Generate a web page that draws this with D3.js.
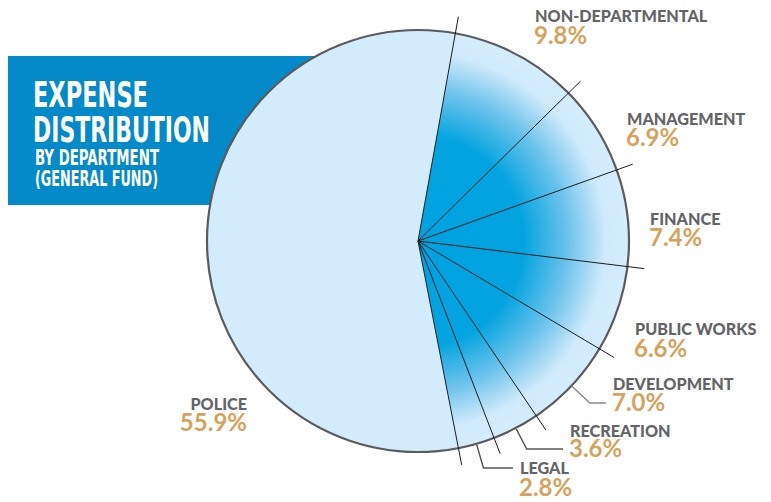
<!DOCTYPE html>
<html>
<head>
<meta charset="utf-8">
<script src="https://cdn.jsdelivr.net/npm/d3@7"></script>
<style>
  html, body { margin: 0; padding: 0; background: #fff; }
  svg { display: block; }
</style>
</head>
<body>
<svg id="chart" width="771" height="502"></svg>
<script>
// ---- data ----
const categories = ["NON-DEPARTMENTAL", "MANAGEMENT", "FINANCE", "PUBLIC WORKS", "DEVELOPMENT", "RECREATION", "LEGAL", "POLICE"];
const values = [9.8, 6.9, 7.4, 6.6, 7.0, 3.6, 2.8, 55.9];
const pctLabels = ["9.8%", "6.9%", "7.4%", "6.6%", "7.0%", "3.6%", "2.8%", "55.9%"];
const titleLines = ["EXPENSE", "DISTRIBUTION"];
const subtitleLines = ["BY DEPARTMENT", "(GENERAL FUND)"];

// ---- layout ----
const cx = 418, cy = 241, R = 211;
const startDeg = 10.2;
// label layout: [x, nameBaseline, pctBaseline, anchor, leader]
const labelLayout = [
  [535, 22, 44, "start", false],
  [627, 125, 146, "start", false],
  [650, 225, 246, "start", false],
  [635, 335, 357, "start", false],
  [613, 390, 411, "start", 403],
  [570, 437, 457, "start", 449],
  [520, 474, 496, "start", 468],
  [247, 410, 431, "end", false]
];

const svg = d3.select("#chart");
const defs = svg.append("defs");
const grad = defs.append("radialGradient")
  .attr("id", "sliceGrad")
  .attr("gradientUnits", "userSpaceOnUse")
  .attr("cx", 0).attr("cy", 0).attr("r", R)
  .attr("fx", 0).attr("fy", 0);
grad.append("stop").attr("offset", 0).attr("stop-color", "#00a2df");
grad.append("stop").attr("offset", 0.5).attr("stop-color", "#03a4e0");
grad.append("stop").attr("offset", 0.71).attr("stop-color", "#6cc3ec");
grad.append("stop").attr("offset", 0.89).attr("stop-color", "#cfeafb");
grad.append("stop").attr("offset", 1).attr("stop-color", "#d4edfc");

// title box
svg.append("rect")
  .attr("x", 8).attr("y", 56).attr("width", 330).attr("height", 149)
  .attr("fill", "#0489c9");

const titleFont = "'Liberation Sans Narrow', 'DejaVu Sans Condensed', Arial, sans-serif";
const titleSpecs = [
  {t: titleLines[0], x: 33, y: 107, size: 35, len: 115},
  {t: titleLines[1], x: 33, y: 142, size: 36, len: 177},
  {t: subtitleLines[0], x: 35, y: 165, size: 21, len: 124},
  {t: subtitleLines[1], x: 35, y: 186, size: 21, len: 123}
];
svg.selectAll("text.title").data(titleSpecs).join("text")
  .attr("class", "title")
  .attr("x", d => d.x).attr("y", d => d.y)
  .attr("font-family", titleFont)
  .attr("font-weight", "bold")
  .attr("font-size", d => d.size)
  .attr("fill", "#fff")
  .attr("textLength", d => d.len)
  .attr("lengthAdjust", "spacingAndGlyphs")
  .text(d => d.t);

// pie
const toRad = d => d * Math.PI / 180;
const pie = d3.pie().sort(null).value(d => d)
  .startAngle(toRad(startDeg)).endAngle(toRad(startDeg) + 2 * Math.PI);
const arcs = pie(values);
const arc = d3.arc().innerRadius(0).outerRadius(R);

const g = svg.append("g").attr("transform", `translate(${cx},${cy})`);
g.selectAll("path.slice").data(arcs).join("path")
  .attr("class", "slice")
  .attr("d", arc)
  .attr("fill", (d, i) => categories[i] === "POLICE" ? "#d3ecfc" : "url(#sliceGrad)");

g.append("circle").attr("r", R)
  .attr("fill", "none").attr("stroke", "#5b5b5d").attr("stroke-width", 2.2);

// boundary lines extending past rim
const pt = (a, r) => [Math.sin(a) * r, -Math.cos(a) * r];
g.selectAll("line.bound").data(arcs).join("line")
  .attr("class", "bound")
  .attr("x1", 0).attr("y1", 0)
  .attr("x2", d => pt(d.startAngle, 228)[0])
  .attr("y2", d => pt(d.startAngle, 228)[1])
  .attr("stroke", "#1a1a1a").attr("stroke-width", 1);

// leaders
arcs.forEach((d, i) => {
  const lay = labelLayout[i];
  if (lay[4] === false) return;
  const mid = (d.startAngle + d.endAngle) / 2;
  const p0 = pt(mid, R + 1);
  const ly = lay[4] - cy;
  const dirx = Math.sin(mid), diry = -Math.cos(mid);
  const t = ly / diry;
  const p1 = [dirx * t, ly];
  const p2 = [lay[0] - cx - 7, ly];
  g.append("polyline")
    .attr("points", [p0, p1, p2].map(p => p.join(",")).join(" "))
    .attr("fill", "none")
    .attr("stroke", i === 4 ? "#8a8a8a" : "#555")
    .attr("stroke-width", 1.4);
});

// labels
const labFont = "Lato, 'Open Sans', sans-serif";
const lab = svg.append("g");
categories.forEach((c, i) => {
  const lay = labelLayout[i];
  lab.append("text")
    .attr("x", lay[0]).attr("y", lay[1])
    .attr("text-anchor", lay[3])
    .attr("font-family", labFont).attr("font-weight", 900)
    .attr("font-size", 16.2).attr("fill", "#636466")
    .text(c);
  lab.append("text")
    .attr("x", lay[0] - (lay[3] === "start" ? 1 : 0)).attr("y", lay[2])
    .attr("text-anchor", lay[3])
    .attr("font-family", labFont).attr("font-weight", 700)
    .attr("font-size", 24).attr("fill", "#d4a35d")
    .text(pctLabels[i]);
});
</script>
</body>
</html>
